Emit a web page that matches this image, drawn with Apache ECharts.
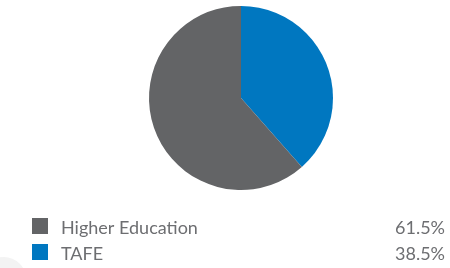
<!DOCTYPE html>
<html>
<head>
<meta charset="utf-8">
<script src="https://cdn.jsdelivr.net/npm/echarts@6/dist/echarts.min.js"></script>
<style>
  html, body { margin: 0; padding: 0; background: #fff; }
  #chart { width: 450px; height: 268px; }
</style>
</head>
<body>
<div id="chart"></div>
<script>
// sectors, drawn clockwise from 12 o'clock (TAFE first)
const sectors = ['TAFE', 'Higher Education'];
const shares = [38.5, 61.5];
const colours = ['#0077c0', '#636466'];
// legend lists Higher Education first
const legendOrder = ['Higher Education', 'TAFE'];

const chart = echarts.init(document.getElementById('chart'));

function legendRow(name, top) {
    return {
        orient: 'vertical',
        left: 32,
        top: top,
        padding: 0,
        itemWidth: 16,
        itemHeight: 16,
        icon: 'rect',
        selectedMode: false,
        data: [name],
        formatter: function (n) {
            const i = sectors.indexOf(n);
            return '{n|' + n + '}{v|' + shares[i].toFixed(1) + '%}';
        },
        textStyle: {
            rich: {
                n: {
                    width: 326,
                    padding: [4, 0, 0, 8],
                    fontFamily: 'Lato',
                    fontSize: 18,
                    color: '#6d6e71'
                },
                v: {
                    width: 58,
                    align: 'right',
                    padding: [4, 0, 0, 0],
                    fontFamily: 'Lato',
                    fontSize: 18,
                    color: '#6d6e71'
                }
            }
        }
    };
}

const option = {
    animation: false,
    graphic: [{
        type: 'circle',
        shape: { cx: 4, cy: 279, r: 22 },
        style: { fill: '#f3f3f3' },
        silent: true,
        z: -1
    }],
    legend: legendOrder.map(function (n, k) { return legendRow(n, 218 + k * 26); }),
    series: [
        {
            type: 'pie',
            center: [241, 98],
            radius: [0, 92],
            startAngle: 90,
            clockwise: true,
            label: { show: false },
            labelLine: { show: false },
            emphasis: { disabled: true },
            itemStyle: { borderWidth: 0 },
            data: sectors.map(function (s, i) {
                return { name: s, value: shares[i], itemStyle: { color: colours[i] } };
            })
        }
    ]
};

chart.setOption(option);
</script>
</body>
</html>
